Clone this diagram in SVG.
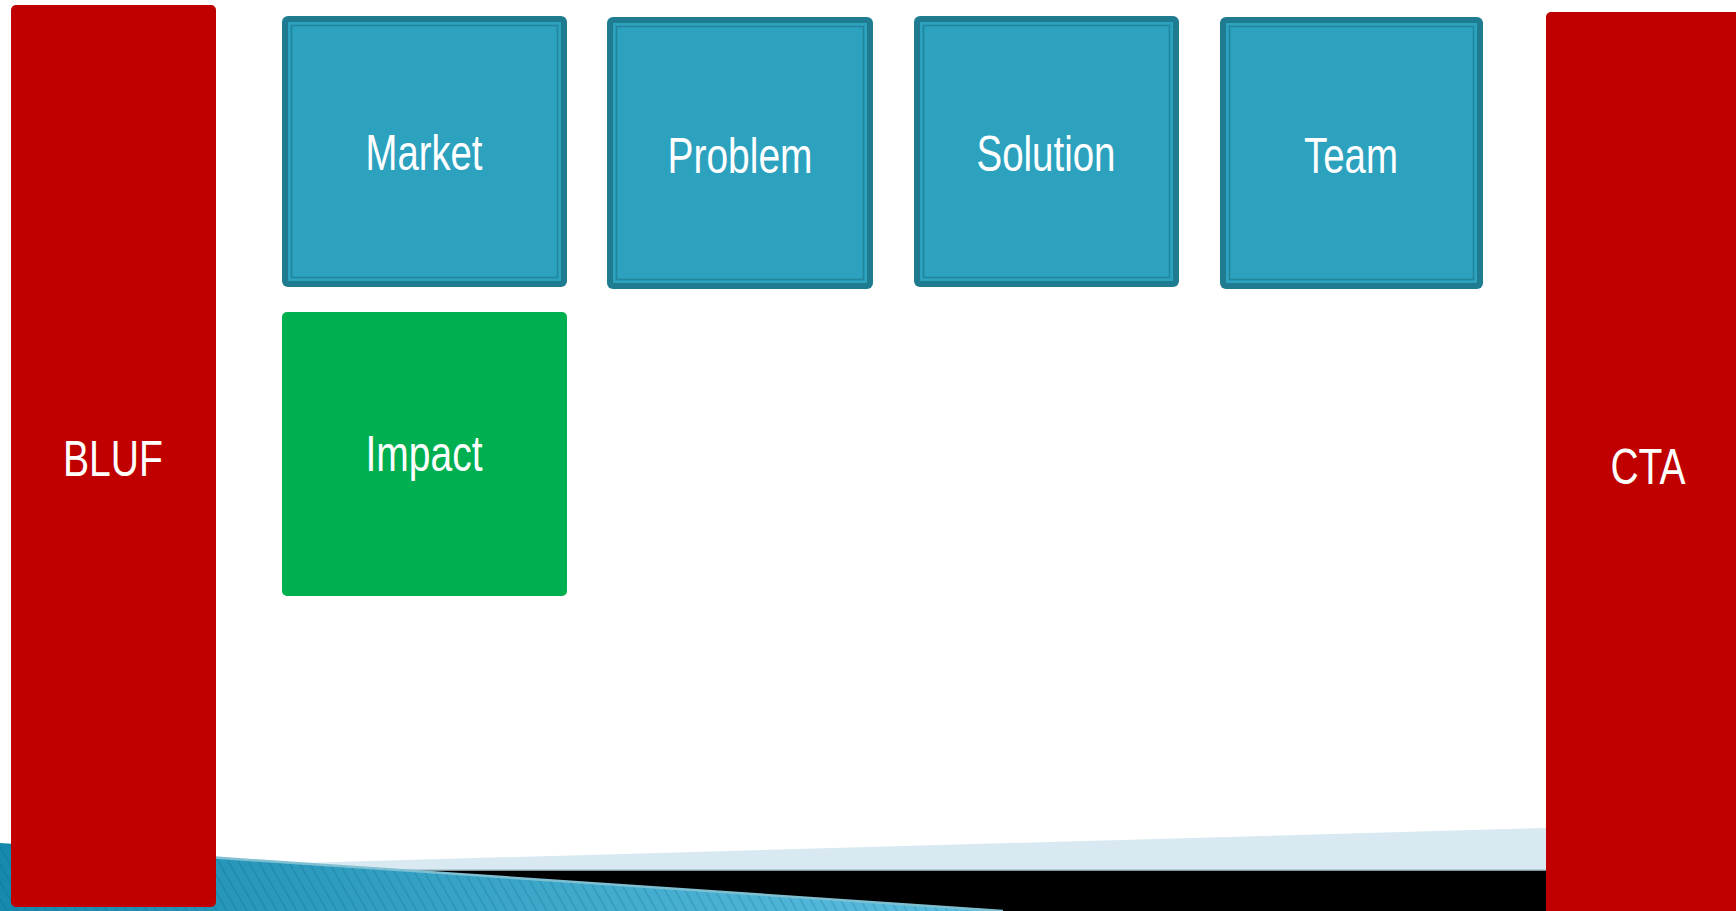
<svg xmlns="http://www.w3.org/2000/svg" width="1736" height="911" viewBox="0 0 1736 911">
<defs>
<style>
.lbl{font-family:"Liberation Sans","Arial",sans-serif;font-size:50px;fill:#ffffff;text-anchor:middle}
.red{fill:#c00000}
.outer{fill:#1e7b90}
.fill{fill:#2ca2bf}
.inner{fill:none;stroke:#22859c;stroke-width:1.6}
</style>
<linearGradient id="tealGrad" gradientUnits="userSpaceOnUse" x1="0" y1="0" x2="1000" y2="0">
<stop offset="0" stop-color="#168aae"/>
<stop offset="1" stop-color="#5ec0e2"/>
</linearGradient>
<pattern id="stripes" patternUnits="userSpaceOnUse" width="10" height="20" patternTransform="skewX(30)">
<line x1="1" y1="0" x2="1" y2="20" stroke="#0b5d78" stroke-opacity="0.2" stroke-width="2"/>
</pattern>
</defs>
<rect width="1736" height="911" fill="#ffffff"/>
<g id="bottom-band">
<polygon points="300,863 1546,828 1546,870 395,870" fill="#d8e9f1"/>
<polygon points="395,870 1546,870 1546,911 1003,911" fill="#000000"/>
<line x1="395" y1="870" x2="1546" y2="870" stroke="#a9c4d0" stroke-width="1.5"/>
<polygon points="0,843 1003,911 0,911" fill="url(#tealGrad)"/>
<polygon points="0,843 1003,911 0,911" fill="url(#stripes)"/>
<line x1="215" y1="857.6" x2="1003" y2="911" stroke="#7fbfd2" stroke-width="2.5"/>
</g>
<g id="node-bluf">
<rect class="red" x="11" y="5" width="205" height="902" rx="5"/>
<text class="lbl" x="113" y="476" textLength="100" lengthAdjust="spacingAndGlyphs">BLUF</text>
</g>
<g id="node-cta">
<rect class="red" x="1546" y="12" width="200" height="910" rx="5"/>
<text class="lbl" x="1648" y="484" textLength="75" lengthAdjust="spacingAndGlyphs">CTA</text>
</g>
<g id="node-market">
<rect class="outer" x="282" y="16" width="285" height="271" rx="6"/>
<rect class="fill" x="288" y="22" width="273" height="259"/>
<rect class="inner" x="291.5" y="25.5" width="266" height="252"/>
<text class="lbl" x="424" y="170" textLength="117" lengthAdjust="spacingAndGlyphs">Market</text>
</g>
<g id="node-problem">
<rect class="outer" x="607" y="17" width="266" height="272" rx="6"/>
<rect class="fill" x="613" y="23" width="254" height="260"/>
<rect class="inner" x="616.5" y="26.5" width="247" height="253"/>
<text class="lbl" x="740" y="173" textLength="145" lengthAdjust="spacingAndGlyphs">Problem</text>
</g>
<g id="node-solution">
<rect class="outer" x="914" y="16" width="265" height="271" rx="6"/>
<rect class="fill" x="920" y="22" width="253" height="259"/>
<rect class="inner" x="923.5" y="25.5" width="246" height="252"/>
<text class="lbl" x="1046" y="171" textLength="139" lengthAdjust="spacingAndGlyphs">Solution</text>
</g>
<g id="node-team">
<rect class="outer" x="1220" y="17" width="263" height="272" rx="6"/>
<rect class="fill" x="1226" y="23" width="251" height="260"/>
<rect class="inner" x="1229.5" y="26.5" width="244" height="253"/>
<text class="lbl" x="1351" y="173" textLength="94" lengthAdjust="spacingAndGlyphs">Team</text>
</g>
<g id="node-impact">
<rect x="282" y="312" width="285" height="284" rx="5" fill="#00b050"/>
<text class="lbl" x="424" y="471" textLength="117" lengthAdjust="spacingAndGlyphs">Impact</text>
</g>
<g id="connectors"/>
</svg>
